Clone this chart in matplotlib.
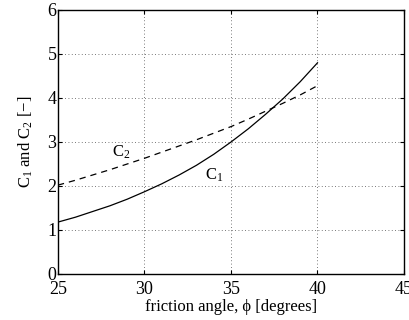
import matplotlib
matplotlib.use("Agg")
import matplotlib.pyplot as plt

phi = [25, 26, 27, 28, 29, 30, 31, 32, 33, 34, 35, 36, 37, 38, 39, 40]
c1 = [1.18, 1.29, 1.42, 1.55, 1.70, 1.87, 2.05, 2.25, 2.47, 2.72, 3.00, 3.30, 3.63, 3.98, 4.37, 4.80]
c2 = [2.02, 2.13, 2.25, 2.37, 2.50, 2.63, 2.77, 2.91, 3.05, 3.20, 3.35, 3.52, 3.70, 3.88, 4.07, 4.28]
xticks = [25, 30, 35, 40, 45]
yticks = [0, 1, 2, 3, 4, 5, 6]

plt.rcParams['font.family'] = ['Liberation Serif', 'DejaVu Serif']
plt.rcParams['mathtext.fontset'] = 'custom'
plt.rcParams['mathtext.rm'] = 'Liberation Serif'
plt.rcParams['mathtext.it'] = 'Liberation Serif:italic'

fig = plt.figure(figsize=(4.1, 3.2), dpi=100)
ax = fig.add_axes([58/410, 1-274/320, (404-58)/410, (274-10)/320])
ax.plot(phi, c1, color='black', lw=0.9, ls='-')
ax.plot(phi, c2, color='black', lw=0.9, ls=(0, (5, 4)))
ax.set_xlim(25, 45)
ax.set_ylim(0, 6)
ax.set_xticks(xticks)
ax.set_yticks(yticks)
ax.grid(True, ls=(0, (1, 3)), color='black', lw=0.6, alpha=0.7)
ax.tick_params(direction='in', top=True, right=True, labelsize=13, length=3, width=0.8)
ax.tick_params(axis='x', pad=5)
ax.tick_params(axis='y', pad=1)
for s in ax.spines.values():
    s.set_linewidth(1.0)
ax.set_xlabel('friction angle, \u03d5 [degrees]', fontsize=12, labelpad=1)
ax.set_ylabel('C$_1$ and C$_2$ [\u2212]', fontsize=12, labelpad=9)
ax.text(28.1, 2.76, 'C$_2$', fontsize=12, ha='left', va='center')
ax.text(33.5, 2.25, 'C$_1$', fontsize=12, ha='left', va='center')
fig.savefig('out.png', dpi=100)
